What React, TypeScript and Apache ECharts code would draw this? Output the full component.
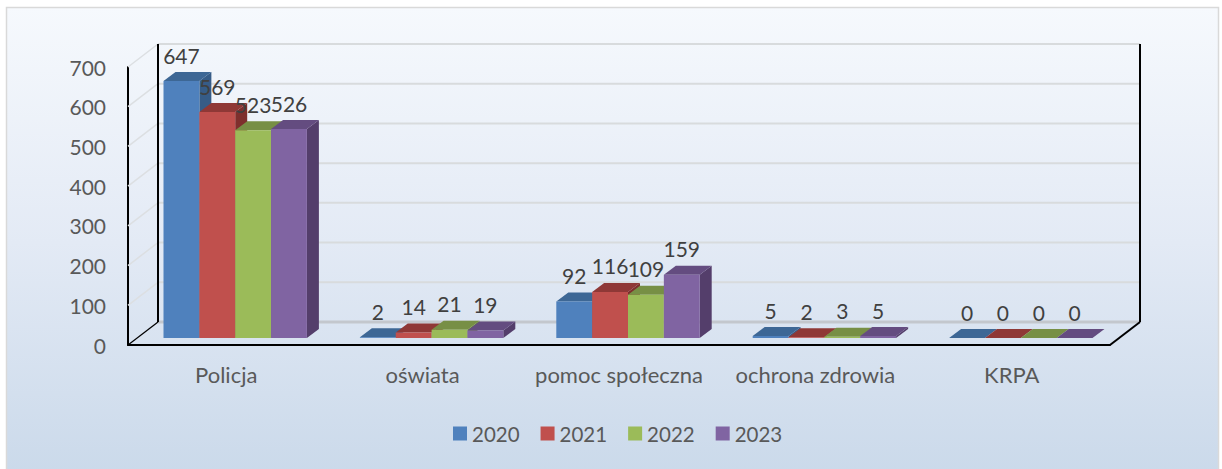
import React, { useEffect, useRef } from "react";
import * as echarts from "echarts";

const categories = ["Policja", "oświata", "pomoc społeczna", "ochrona zdrowia", "KRPA"];
const seriesNames = ["2020", "2021", "2022", "2023"];
const values2020 = [647, 2, 92, 5, 0];
const values2021 = [569, 14, 116, 2, 0];
const values2022 = [523, 21, 109, 3, 0];
const values2023 = [526, 19, 159, 5, 0];
const allValues = [values2020, values2021, values2022, values2023];
const yTicks = [0, 100, 200, 300, 400, 500, 600, 700];

const frontColors = ["#4f81bd", "#c0504d", "#9bbb59", "#8064a2"];
const topColors = ["#3d6795", "#8f3836", "#778f45", "#644c80"];
const sideColors = ["#365c87", "#7e2f2d", "#6a803d", "#543e6b"];

const FONT = "Lato";
const DEPTH_X = 30;
const DEPTH_Y = 23;
const BAR_W = 35.85;
const BAR_DX = 12;
const BAR_DY = 9;
const BAR_SHIFT_X = 9;
const BAR_SHIFT_Y = 7;

function wallItem(params: any, api: any) {
  const v = api.value(1);
  const p = api.coord([0, v]);
  const cs = params.coordSys;
  const left = cs.x;
  const right = cs.x + cs.width;
  const y = p[1];
  const isFloor = v === 0;
  const children: any[] = [
    {
      type: "line",
      shape: { x1: left + DEPTH_X, y1: y - DEPTH_Y, x2: right + DEPTH_X, y2: y - DEPTH_Y },
      style: { stroke: isFloor ? "#c3c7cd" : "#d8dbdd", lineWidth: isFloor ? 3 : 2 },
    },
  ];
  if (isFloor) {
    children.push(
      { type: "line", shape: { x1: left, y1: y, x2: left + DEPTH_X, y2: y - DEPTH_Y }, style: { stroke: "#000", lineWidth: 1.2 }, z2: 5 },
      { type: "line", shape: { x1: right, y1: y, x2: right + DEPTH_X, y2: y - DEPTH_Y }, style: { stroke: "#000", lineWidth: 2 }, z2: 5 }
    );
  } else {
    children.push({
      type: "line",
      shape: { x1: left, y1: y, x2: left + DEPTH_X, y2: y - DEPTH_Y },
      style: { stroke: "#dcdfe2", lineWidth: 1.5 },
    });
  }
  if (v === yTicks[yTicks.length - 1]) {
    const y0 = api.coord([0, 0])[1];
    children.push(
      { type: "line", shape: { x1: left + DEPTH_X, y1: y - DEPTH_Y, x2: left + DEPTH_X, y2: y0 - DEPTH_Y }, style: { stroke: "#000", lineWidth: 2 }, z2: 5 },
      { type: "line", shape: { x1: right + DEPTH_X, y1: y - DEPTH_Y, x2: right + DEPTH_X, y2: y0 - DEPTH_Y }, style: { stroke: "#000", lineWidth: 2 }, z2: 5 }
    );
  }
  return { type: "group", children };
}

function barItem(si: number) {
  return (_params: any, api: any) => {
    const cat = api.value(0);
    const val = api.value(1);
    const top = api.coord([cat, val]);
    const base = api.coord([cat, 0]);
    const x0 = top[0] + BAR_SHIFT_X + (si - 2) * BAR_W;
    const x1 = x0 + BAR_W;
    const yt = top[1] - BAR_SHIFT_Y;
    const yb = base[1] - BAR_SHIFT_Y;
    return {
      type: "group",
      children: [
        {
          type: "polygon",
          shape: { points: [[x1, yt], [x1 + BAR_DX, yt - BAR_DY], [x1 + BAR_DX, yb - BAR_DY], [x1, yb]] },
          style: { fill: sideColors[si] },
        },
        {
          type: "polygon",
          shape: { points: [[x0, yt], [x0 + BAR_DX, yt - BAR_DY], [x1 + BAR_DX, yt - BAR_DY], [x1, yt]] },
          style: { fill: topColors[si] },
        },
        {
          type: "rect",
          shape: { x: x0, y: yt, width: BAR_W, height: yb - yt },
          style: { fill: frontColors[si] },
        },
        {
          type: "text",
          z2: 100,
          x: (x0 + x1) / 2,
          y: yt - 26,
          style: {
            text: String(val),
            fontFamily: FONT,
            fontSize: 21,
            fill: "#404040",
            align: "center",
            verticalAlign: "middle",
          },
        },
      ],
    };
  };
}

export default function App() {
  const ref = useRef<HTMLDivElement>(null);
  useEffect(() => {
    const chart = echarts.init(ref.current!, null, { renderer: "svg" });
    chart.setOption({
      animation: false,
      textStyle: { fontFamily: FONT },
      graphic: [
        {
          type: "rect",
          z: -10,
          shape: { x: 6.5, y: 7.5, width: 1212, height: 470 },
          style: {
            fill: new echarts.graphic.LinearGradient(0, 0, 0, 1, [
              { offset: 0, color: "#f6f9fd" },
              { offset: 0.5, color: "#e3eaf5" },
              { offset: 1, color: "#cad9ea" },
            ]),
            stroke: "#d9d9d9",
            lineWidth: 1.5,
          },
        },
      ],
      grid: { left: 128, right: 112, top: 67, bottom: 124 },
      legend: {
        data: seriesNames,
        left: 448,
        top: 418,
        icon: "rect",
        itemWidth: 14,
        itemHeight: 14,
        itemGap: 21,
        selectedMode: false,
        textStyle: { fontFamily: FONT, fontSize: 20.5, color: "#595959", padding: [0, 0, 0, 0] },
      },
      xAxis: {
        type: "category",
        data: categories,
        axisTick: { show: false },
        axisLine: { show: true, lineStyle: { color: "#000", width: 2 } },
        axisLabel: { fontFamily: FONT, fontSize: 22, color: "#595959", margin: 18, interval: 0 },
      },
      yAxis: {
        type: "value",
        min: 0,
        max: 700,
        interval: 100,
        axisTick: { show: false },
        splitLine: { show: false },
        axisLine: { show: true, lineStyle: { color: "#000", width: 2 } },
        axisLabel: { fontFamily: FONT, fontSize: 21, color: "#595959", margin: 22 },
      },
      series: [
        {
          type: "custom",
          silent: true,
          z: 1,
          clip: false,
          renderItem: wallItem,
          data: yTicks.map((v) => [0, v]),
        },
        ...seriesNames.map((name, si) => ({
          type: "custom",
          name,
          z: 3,
          clip: false,
          itemStyle: { color: frontColors[si] },
          renderItem: barItem(si),
          data: allValues[si].map((v, i) => [i, v]),
        })),
      ],
    });
    return () => chart.dispose();
  }, []);
  return <div ref={ref} style={{ position: "absolute", left: 0, top: 0, width: 1222, height: 469 }} />;
}
